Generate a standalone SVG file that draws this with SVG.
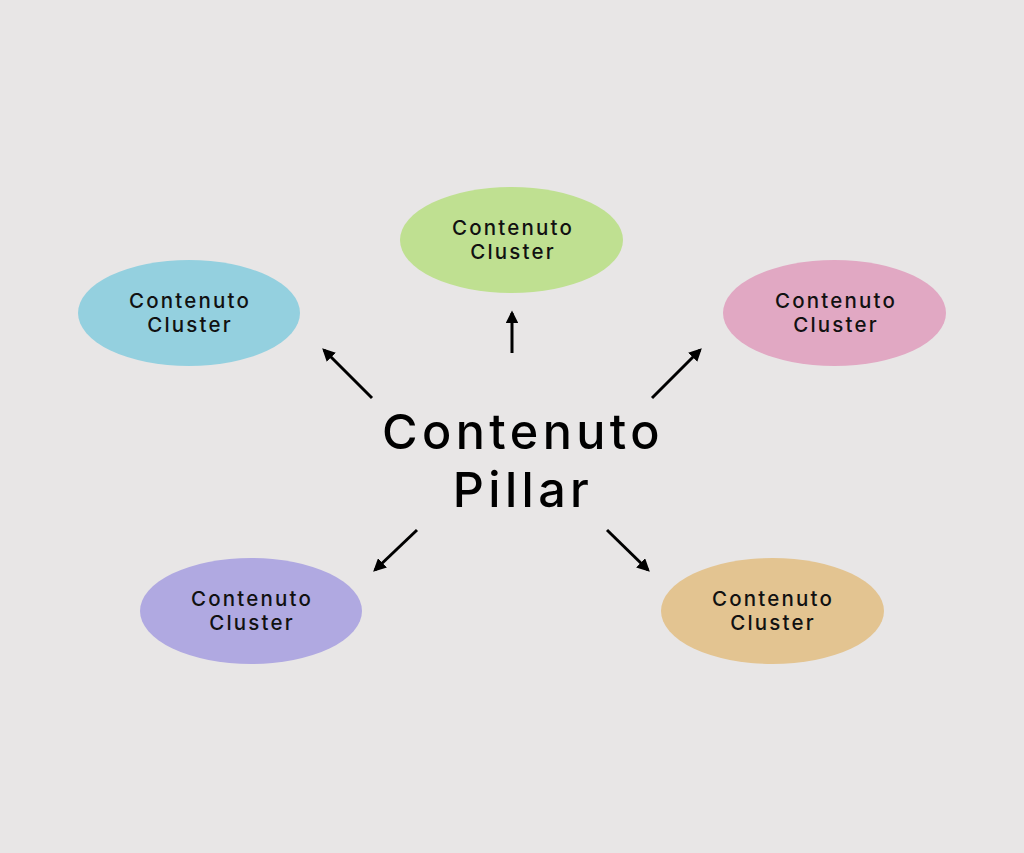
<svg xmlns="http://www.w3.org/2000/svg" width="1024" height="853" viewBox="0 0 1024 853">
<defs>
<style>
.node-text{font-family:Inter,"Open Sans","Liberation Sans",sans-serif;font-size:20.5px;font-weight:500;fill:#111;text-anchor:middle;letter-spacing:2.2px}
.main-text{font-family:Inter,"Open Sans","Liberation Sans",sans-serif;font-size:48.5px;font-weight:500;fill:#000;text-anchor:middle;letter-spacing:4.4px}
.conn{stroke:#000;stroke-width:3;fill:none;marker-end:url(#arrow)}
</style>
<marker id="arrow" viewBox="0 0 10 10" refX="8" refY="5" markerWidth="4.3" markerHeight="4.3" markerUnits="strokeWidth" orient="auto">
<path d="M0,0 L10,5 L0,10 Z" fill="#000"/>
</marker>
</defs>
<rect width="1024" height="853" fill="#e8e6e6"/>
<g id="connectors">
<line class="conn" x1="512" y1="353" x2="512" y2="313"/>
<line class="conn" x1="372" y1="398" x2="324" y2="350"/>
<line class="conn" x1="652" y1="398" x2="700" y2="350"/>
<line class="conn" x1="417" y1="530" x2="375" y2="570"/>
<line class="conn" x1="607" y1="530" x2="648" y2="570"/>
</g>
<g id="pillar">
<text class="main-text"><tspan x="523" y="448.5">Contenuto</tspan><tspan x="523" y="507">Pillar</tspan></text>
</g>
<g id="cluster-top">
<ellipse cx="511.5" cy="240" rx="111.5" ry="53" fill="#bfe091"/>
<text class="node-text"><tspan x="513" y="235">Contenuto</tspan><tspan x="513" y="259">Cluster</tspan></text>
</g>
<g id="cluster-left">
<ellipse cx="189" cy="313" rx="111" ry="53" fill="#94d0df"/>
<text class="node-text"><tspan x="190" y="308">Contenuto</tspan><tspan x="190" y="332">Cluster</tspan></text>
</g>
<g id="cluster-right">
<ellipse cx="834.5" cy="313" rx="111.5" ry="53" fill="#e1a8c3"/>
<text class="node-text"><tspan x="836" y="308">Contenuto</tspan><tspan x="836" y="332">Cluster</tspan></text>
</g>
<g id="cluster-bottom-left">
<ellipse cx="251" cy="611" rx="111" ry="53" fill="#b0a9e1"/>
<text class="node-text"><tspan x="252" y="606">Contenuto</tspan><tspan x="252" y="630">Cluster</tspan></text>
</g>
<g id="cluster-bottom-right">
<ellipse cx="772.5" cy="611" rx="111.5" ry="53" fill="#e3c491"/>
<text class="node-text"><tspan x="773" y="606">Contenuto</tspan><tspan x="773" y="630">Cluster</tspan></text>
</g>
</svg>
